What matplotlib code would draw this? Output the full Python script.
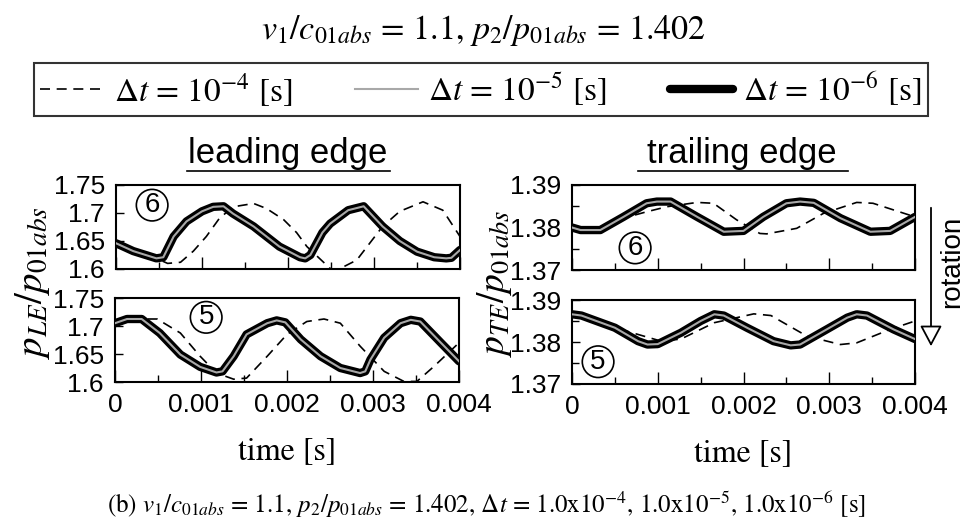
import matplotlib

matplotlib.use("Agg")

import matplotlib.pyplot as plt
from matplotlib.lines import Line2D
from matplotlib.patches import FancyArrowPatch
from matplotlib.ticker import MultipleLocator

# -----------------------------
# data
# -----------------------------
# leading edge, blade 6
le6_t_fine = [0, 0.0002, 0.00047, 0.00055, 0.00067, 0.00082, 0.001, 0.00113, 0.00125, 0.00136,
              0.0016, 0.0019, 0.00214, 0.0022, 0.00226, 0.0024, 0.00249, 0.0027, 0.00288, 0.0031,
              0.0033, 0.0035, 0.0037, 0.00384, 0.0039, 0.004]
le6_fine = [1.646, 1.632, 1.619, 1.621, 1.658, 1.685, 1.703, 1.711, 1.712, 1.699,
            1.676, 1.640, 1.621, 1.619, 1.625, 1.665, 1.681, 1.705, 1.712, 1.676,
            1.650, 1.631, 1.621, 1.619, 1.620, 1.634]
le6_t_coarse = [0, 0.0002, 0.00047, 0.0006, 0.00075, 0.0009, 0.00105, 0.0012, 0.00136, 0.0016,
                0.00175, 0.00195, 0.0021, 0.00222, 0.00249, 0.00257, 0.0028, 0.0031, 0.0033,
                0.00357, 0.0038, 0.004]
le6_coarse = [1.646, 1.632, 1.619, 1.610, 1.612, 1.632, 1.658, 1.690, 1.711, 1.717,
              1.708, 1.688, 1.665, 1.640, 1.601, 1.598, 1.616, 1.676, 1.703,
              1.720, 1.705, 1.658]

# leading edge, blade 5
le5_t_fine = [0, 0.00014, 0.00031, 0.00052, 0.00076, 0.00099, 0.00118, 0.00125, 0.00138, 0.00153,
              0.00177, 0.00188, 0.00198, 0.00216, 0.00239, 0.00262, 0.00285, 0.00291, 0.00297,
              0.00313, 0.00332, 0.00344, 0.00355, 0.00379, 0.004]
le5_fine = [1.705, 1.7125, 1.7125, 1.6875, 1.649, 1.627, 1.617, 1.619, 1.646, 1.685,
            1.705, 1.710, 1.7065, 1.676, 1.646, 1.625, 1.616, 1.619, 1.640,
            1.679, 1.705, 1.711, 1.708, 1.670, 1.637]
le5_t_coarse = [0, 0.00014, 0.00031, 0.00049, 0.00076, 0.00099, 0.00118, 0.00138, 0.00153, 0.00177,
                0.002, 0.00223, 0.00243, 0.00262, 0.00285, 0.00313, 0.00336, 0.00351, 0.00371, 0.004]
le5_coarse = [1.705, 1.7125, 1.7125, 1.7125, 1.6875, 1.646, 1.616, 1.605, 1.607, 1.646,
              1.685, 1.708, 1.7125, 1.705, 1.664, 1.619, 1.601, 1.601, 1.628, 1.670]

# trailing edge, blade 6
te6_t_fine = [0, 0.0001, 0.00033, 0.0006, 0.00087, 0.00099, 0.00115, 0.00146, 0.00177, 0.002,
              0.00223, 0.0025, 0.00266, 0.00282, 0.00313, 0.00348, 0.00371, 0.004]
te6_fine = [1.3800, 1.3794, 1.3794, 1.3825, 1.3857, 1.3861, 1.3861, 1.3825, 1.3790, 1.3792,
            1.3825, 1.3857, 1.3861, 1.3858, 1.3822, 1.3790, 1.3792, 1.3825]
te6_t_coarse = [0, 0.0001, 0.00033, 0.0006, 0.00087, 0.00111, 0.00146, 0.00165, 0.00192, 0.00219,
                0.00227, 0.00262, 0.00293, 0.00332, 0.00351, 0.004]
te6_coarse = [1.3800, 1.3794, 1.3794, 1.3822, 1.3837, 1.3849, 1.3859, 1.3857, 1.3818, 1.3786,
              1.3785, 1.3798, 1.3833, 1.3859, 1.3857, 1.3825]

# trailing edge, blade 5
te5_t_fine = [0, 0.00011, 0.0005, 0.00077, 0.00088, 0.001, 0.00127, 0.0015, 0.00166, 0.00177,
              0.00204, 0.00235, 0.00255, 0.00266, 0.00297, 0.00321, 0.00332, 0.00344, 0.00375, 0.004]
te5_fine = [1.3866, 1.3863, 1.3834, 1.3802, 1.3794, 1.3795, 1.3822, 1.3850, 1.3866, 1.3863,
            1.3834, 1.3802, 1.3792, 1.3794, 1.3830, 1.3858, 1.3866, 1.3863, 1.3830, 1.3807]
te5_t_coarse = [0, 0.00011, 0.0005, 0.00077, 0.00104, 0.00127, 0.00166, 0.00212, 0.00232, 0.00274,
                0.00313, 0.00332, 0.00371, 0.004]
te5_coarse = [1.3866, 1.3863, 1.3834, 1.3818, 1.3802, 1.3807, 1.3846, 1.3867, 1.3863, 1.3814,
              1.3794, 1.3798, 1.3830, 1.3850]

x_ticks = [0, 0.001, 0.002, 0.003, 0.004]
x_tick_labels = ["0", "0.001", "0.002", "0.003", "0.004"]
le_ticks = [1.6, 1.65, 1.7, 1.75]
le_tick_labels = ["1.6", "1.65", "1.7", "1.75"]
te_ticks = [1.37, 1.38, 1.39]
te_tick_labels = ["1.37", "1.38", "1.39"]

# -----------------------------
# style
# -----------------------------
plt.rcParams["font.family"] = ["Liberation Sans", "DejaVu Sans"]
plt.rcParams["mathtext.fontset"] = "stix"
SERIF = "STIXGeneral"
W, H = 967, 528


def fx(px):
    return px / W


def fy(py):
    return 1 - py / H


fig = plt.figure(figsize=(9.67, 5.28), dpi=100)
fig.patch.set_facecolor("white")

# axes boxes (pixel positions of the reference)
boxes = {
    "le6": (116, 185, 460, 269),
    "le5": (115, 298, 459, 382),
    "te6": (572, 185, 915, 270),
    "te5": (572, 300, 915, 384),
}
axes = {}
for key, (x0, y0, x1, y1) in boxes.items():
    axes[key] = fig.add_axes([fx(x0), fy(y1), (x1 - x0) / W, (y1 - y0) / H])

panels = [
    ("le6", le6_t_fine, le6_fine, le6_t_coarse, le6_coarse, "6", (0.105, 0.76)),
    ("le5", le5_t_fine, le5_fine, le5_t_coarse, le5_coarse, "5", (0.265, 0.77)),
    ("te6", te6_t_fine, te6_fine, te6_t_coarse, te6_coarse, "6", (0.184, 0.26)),
    ("te5", te5_t_fine, te5_fine, te5_t_coarse, te5_coarse, "5", (0.076, 0.265)),
]

handles = None
for key, tf, vf, tc, vc, num, pos in panels:
    ax = axes[key]
    h_coarse, = ax.plot(tc, vc, color="black", lw=1.2, dashes=(6, 4), zorder=2)
    h_fine6, = ax.plot(tf, vf, color="black", lw=6, solid_capstyle="round",
                       solid_joinstyle="round", zorder=3)
    h_fine5, = ax.plot(tf, vf, color="#a8a8a8", lw=1.5, solid_joinstyle="round", zorder=4)
    handles = [h_coarse, h_fine5, h_fine6]

    ax.set_xlim(0, 0.004)
    ax.set_xticks(x_ticks)
    ax.xaxis.set_minor_locator(MultipleLocator(0.0005))
    if key.startswith("le"):
        ax.set_ylim(1.6, 1.75)
        ax.set_yticks(le_ticks)
        ax.set_yticklabels(le_tick_labels)
    else:
        ax.set_ylim(1.37, 1.39)
        ax.set_yticks(te_ticks)
        ax.set_yticklabels(te_tick_labels)
        ax.yaxis.set_minor_locator(MultipleLocator(0.005))
    if key.endswith("5"):
        ax.set_xticklabels(x_tick_labels)
        ax.set_xlabel("time [s]", fontfamily=SERIF, fontsize=23, labelpad=14)
    else:
        ax.set_xticklabels([])
    ax.tick_params(which="both", direction="in", top=False, right=False,
                   labelsize=19, pad=8, width=1)
    ax.tick_params(which="major", length=9)
    ax.tick_params(which="minor", length=5)
    ax.tick_params(axis="y", which="major", length=6)
    for s in ax.spines.values():
        s.set_linewidth(1.5)

    ax.text(pos[0], pos[1], num, transform=ax.transAxes, ha="center", va="center",
            fontsize=20, zorder=6,
            bbox=dict(boxstyle="circle,pad=0.1", fc="white", ec="black", lw=1.2))

# title
fig.text(0.5, fy(30), r"$v_{\mathit{1}}/c_{\mathit{01abs}}$ = 1.1, $p_{\mathit{2}}/p_{\mathit{01abs}}$ = 1.402",
         ha="center", va="center", fontfamily=SERIF, fontsize=24.5)

# legend
leg = fig.legend(handles,
                 [r"$\mathit{Δt}$ = 10$^{\mathrm{-4}}$ [s]",
                  r"$\mathit{Δt}$ = 10$^{\mathrm{-5}}$ [s]",
                  r"$\mathit{Δt}$ = 10$^{\mathrm{-6}}$ [s]"],
                 loc="center", ncol=3, mode="expand",
                 bbox_to_anchor=(fx(17), fy(117), 928 / W, 55 / H),
                 frameon=True, fancybox=False, edgecolor="black",
                 handlelength=1.9, handletextpad=0.3, borderpad=0.2,
                 prop={"family": SERIF, "size": 24})
leg.get_frame().set_linewidth(1.5)

# column headings (underlined)
for cx, txt, ux0, ux1 in [(288, "leading edge", 187, 390), (742, "trailing edge", 638, 848)]:
    fig.text(fx(cx), fy(153), txt, ha="center", va="center", fontsize=25)
    fig.add_artist(Line2D([fx(ux0), fx(ux1)], [fy(171), fy(171)], color="black", lw=1.2))

# y axis labels
fig.text(fx(32), fy(283), r"$p_{LE}/p_{\mathit{01abs}}$", rotation=90,
         ha="center", va="center", fontsize=28)
fig.text(fx(494), fy(283), r"$p_{TE}/p_{\mathit{01abs}}$", rotation=90,
         ha="center", va="center", fontsize=27)

# rotation arrow
arrow = FancyArrowPatch((fx(931), fy(205)), (fx(931), fy(349)), transform=fig.transFigure,
                        arrowstyle="-|>,head_length=3.2,head_width=1.7",
                        fc="white", ec="black", lw=1.3, mutation_scale=4)
fig.add_artist(arrow)
fig.text(fx(952), fy(262), "rotation", rotation=90, ha="center", va="center", fontsize=20)

# caption
fig.text(0.503, fy(505),
         r"(b) $v_{\mathit{1}}/c_{\mathit{01abs}}$ = 1.1, $p_{\mathit{2}}/p_{\mathit{01abs}}$ = 1.402, "
         r"$\mathit{Δt}$ = 1.0x10$^{\mathrm{-4}}$, 1.0x10$^{\mathrm{-5}}$, 1.0x10$^{\mathrm{-6}}$ [s]",
         ha="center", va="center", fontfamily=SERIF, fontsize=18)

fig.savefig("out.png", dpi=100)
